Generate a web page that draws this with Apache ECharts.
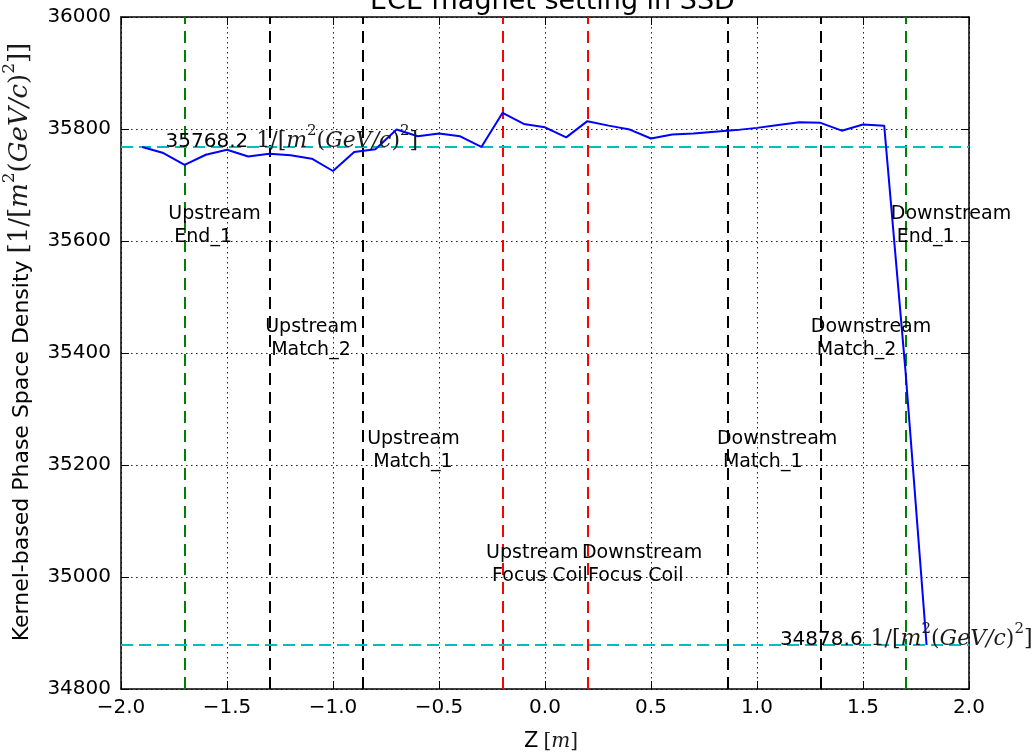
<!DOCTYPE html>
<html>
<head>
<meta charset="utf-8">
<title>ECE magnet setting in SSD</title>
<script src="https://cdn.jsdelivr.net/npm/echarts@6/dist/echarts.min.js"></script>
<style>
  html, body { margin: 0; padding: 0; background: #fff; }
  #chart { width: 1035px; height: 754px; }
</style>
</head>
<body>
<div id="chart"></div>
<script>
// Beam position along the channel, Z [m]
const zPositions = [
  -1.9, -1.8, -1.7, -1.6, -1.5, -1.4, -1.3, -1.2, -1.1, -1.0,
  -0.9, -0.8, -0.7, -0.6, -0.5, -0.4, -0.3, -0.2, -0.1, 0.0,
   0.1,  0.2,  0.3,  0.4,  0.5,  0.6,  0.7,  0.8,  0.9, 1.0,
   1.1,  1.2,  1.3,  1.4,  1.5,  1.6,  1.7,  1.8
];
// Kernel-based phase space density at each Z
const densityValues = [
  35768, 35757, 35736, 35754, 35763, 35751, 35756, 35753, 35747, 35725,
  35759, 35764, 35799, 35787, 35792, 35787, 35768, 35829, 35809, 35803,
  35785, 35814, 35806, 35799, 35783, 35790, 35792, 35795, 35798, 35802,
  35807, 35812, 35811, 35797, 35808, 35806, 35370, 34878.6
];
// Horizontal reference levels (upstream and downstream density)
const referenceLevels = [35768.2, 34878.6];
const referenceLabelAnchors = [-1.79, 1.108];

// Detector / magnet stations
const stationZ = [-1.7, -1.3, -0.86, -0.2, 0.2, 0.86, 1.3, 1.7];
const stationColors = ['#008000', '#000000', '#000000', '#ff0000', '#ff0000', '#000000', '#000000', '#008000'];
const stationFirstLine = ['Upstream', 'Upstream', 'Upstream', 'Upstream',
                          'Downstream', 'Downstream', 'Downstream', 'Downstream'];
const stationSecondLine = ['End_1', 'Match_2', 'Match_1', 'Focus Coil',
                           'Focus Coil', 'Match_1', 'Match_2', 'End_1'];
// Where each station name starts (data units, left edge / vertical middle)
const stationLabelZ = [-1.777, -1.320, -0.839, -0.278, 0.174, 0.811, 1.254, 1.631];
const stationLabelY = [35627, 35425, 35225, 35023, 35023, 35225, 35425, 35627];

const xTicks = { min: -2.0, max: 2.0, step: 0.5 };
const yTicks = { min: 34800, max: 36000, step: 200 };

const SANS = '"DejaVu Sans", sans-serif';
const SERIF = '"DejaVu Serif", "Liberation Serif", serif';

function mathRich(size, supSize) {
  return {
    r: { fontFamily: SERIF, fontSize: size, color: '#1a1a1a', lineHeight: size + 6, verticalAlign: 'bottom' },
    i: { fontFamily: SERIF, fontStyle: 'italic', fontSize: size, color: '#1a1a1a', lineHeight: size + 6, verticalAlign: 'bottom' },
    s: { fontFamily: SERIF, fontSize: supSize, color: '#1a1a1a', lineHeight: supSize, verticalAlign: 'top' }
  };
}
const unitText = '{g|1/[}{i|m}{s|2}{r|(}{i|GeV/c}{r|)}{s|2}{r|]}';

const chart = echarts.init(document.getElementById('chart'), null, { renderer: 'canvas' });

const fmtX = v => (v < 0 ? '\u2212' : '') + Math.abs(v).toFixed(1);
const fmtY = v => String(v);

const frameLine = { show: true, onZero: false, lineStyle: { color: '#000', width: 1.5 } };
const innerTick = { show: true, inside: true, length: 8, lineStyle: { color: '#000', width: 1 } };
const dottedGrid = { show: true, lineStyle: { color: '#222', width: 1, type: [1.5, 3.5] } };

const yRich = mathRich(26, 17);
yRich.t = { fontFamily: SANS, fontSize: 22, color: '#000', lineHeight: 32, verticalAlign: 'bottom', padding: [0, 0, 0, 22] };
const xRich = mathRich(20, 13);
xRich.t = { fontFamily: SANS, fontSize: 21, color: '#000', lineHeight: 27, verticalAlign: 'bottom', padding: [0, 5, 0, 12] };
const levelRich = mathRich(22, 15);
levelRich.n = { fontFamily: SANS, fontSize: 20, color: '#000', lineHeight: 28, verticalAlign: 'bottom' };
levelRich.g = Object.assign({}, levelRich.r, { padding: [0, 0, 0, 8] });

const option = {
  animation: false,
  backgroundColor: '#ffffff',
  title: {
    text: 'ECE magnet setting in SSD',
    left: 365,
    top: -17,
    textStyle: { fontFamily: SANS, fontSize: 27, fontWeight: 'normal', color: '#000' }
  },
  grid: { left: 121, right: 66, top: 17, bottom: 65, containLabel: false, outerBoundsMode: 'none' },
  xAxis: [{
    type: 'value',
    min: xTicks.min, max: xTicks.max, interval: xTicks.step,
    name: '{t|Z}{r|[}{i|m}{r|]}',
    nameLocation: 'middle',
    nameGap: 36,
    nameTextStyle: { rich: xRich },
    axisLine: frameLine,
    axisTick: innerTick,
    axisLabel: { formatter: fmtX, fontFamily: SANS, fontSize: 20, color: '#000', margin: 9 },
    splitLine: dottedGrid
  }, {
    type: 'value', position: 'top',
    min: xTicks.min, max: xTicks.max, interval: xTicks.step,
    axisLine: frameLine, axisTick: innerTick,
    axisLabel: { show: false }, splitLine: { show: false }
  }],
  yAxis: [{
    type: 'value',
    min: yTicks.min, max: yTicks.max, interval: yTicks.step,
    name: '{t|Kernel-based Phase Space Density }{r|[1/[}{i|m}{s|2}{r|(}{i|GeV/c}{r|)}{s|2}{r|]]}',
    nameLocation: 'middle',
    nameRotate: 90,
    nameGap: 88,
    nameTextStyle: { rich: yRich },
    axisLine: frameLine,
    axisTick: innerTick,
    axisLabel: { formatter: fmtY, fontFamily: SANS, fontSize: 20, color: '#000', margin: 10 },
    splitLine: dottedGrid
  }, {
    type: 'value', position: 'right',
    min: yTicks.min, max: yTicks.max, interval: yTicks.step,
    axisLine: frameLine, axisTick: innerTick,
    axisLabel: { show: false }, splitLine: { show: false }
  }],
  series: [
    {
      // station markers and reference levels
      name: 'guides',
      type: 'line',
      data: [],
      silent: true,
      z: 2,
      markLine: {
        silent: true,
        symbol: 'none',
        label: { show: false },
        data: [
          ...stationZ.map((z, i) => ({
            xAxis: z,
            lineStyle: { color: stationColors[i], width: 2, type: [12, 7] }
          })),
          ...referenceLevels.map(v => ({
            yAxis: v,
            lineStyle: { color: '#00bfbf', width: 2, type: [12, 6] }
          }))
        ]
      }
    },
    {
      name: 'density',
      type: 'line',
      data: zPositions.map((z, i) => [z, densityValues[i]]),
      showSymbol: false,
      symbol: 'none',
      lineStyle: { color: '#0000ff', width: 2 },
      z: 5
    },
    {
      name: 'stations',
      type: 'scatter',
      symbolSize: 0,
      silent: true,
      z: 6,
      data: stationFirstLine.map((n, i) => ({
        name: n + '|' + stationSecondLine[i],
        value: [stationLabelZ[i], stationLabelY[i]]
      })),
      label: {
        show: true,
        position: 'right',
        distance: 0,
        align: 'left',
        verticalAlign: 'middle',
        formatter: p => {
          const parts = p.name.split('|');
          return '{a|' + parts[0] + '}\n{b|' + parts[1] + '}';
        },
        rich: {
          a: { fontFamily: SANS, fontSize: 19, lineHeight: 23, color: '#000' },
          b: { fontFamily: SANS, fontSize: 19, lineHeight: 23, color: '#000', padding: [0, 0, 0, 6] }
        },
        color: '#000',
        opacity: 1,
        textBorderWidth: 0
      }
    },
    {
      name: 'levels',
      type: 'scatter',
      symbolSize: 0,
      silent: true,
      z: 6,
      data: referenceLevels.map((v, i) => ({ name: v.toFixed(1), value: [referenceLabelAnchors[i], v] })),
      label: {
        show: true,
        position: 'right',
        distance: 0,
        align: 'left',
        verticalAlign: 'bottom',
        offset: [0, 5],
        formatter: p => '{n|' + p.name + '}' + unitText,
        rich: levelRich,
        color: '#000',
        opacity: 1,
        textBorderWidth: 0
      }
    }
  ]
};

chart.setOption(option);
</script>
</body>
</html>
